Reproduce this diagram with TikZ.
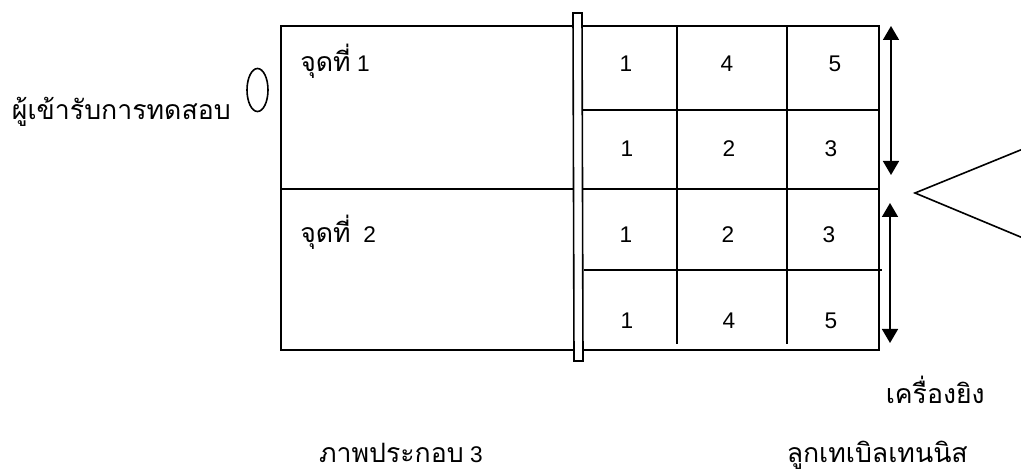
\documentclass[tikz,border=0pt]{standalone}
\usepackage{fontspec}
\setmainfont{Liberation Sans}
\newfontfamily\thaifont[Script=Thai]{Loma}
\newcommand{\thtext}[1]{{\fontsize{20}{24}\selectfont\thaifont #1}}
\usetikzlibrary{arrows.meta}
\begin{document}
\begin{tikzpicture}[x=0.75pt,y=-0.75pt,
  court/.style={line width=1.2pt},
  numlbl/.style={anchor=base,inner sep=0pt,font=\fontsize{17}{20}\selectfont},
  thlbl/.style={inner sep=0pt,font=\fontsize{17}{20}\selectfont},
  dblarrow/.style={line width=1.2pt,{Triangle[width=12pt,length=10.5pt]}-{Triangle[width=12pt,length=10.5pt]}}]
\useasboundingbox (0,0) rectangle (1021,473);
% court
\draw[court] (281,26) rectangle (879,350);
\draw[court] (281,189) -- (879,189);
\draw[court] (582,110) -- (879,110);
\draw[court] (584,270) -- (882,270);
\draw[court] (677,26) -- (677,189);
\draw[court] (787,26) -- (787,189);
\draw[court] (677,189) -- (677,344);
\draw[court] (787,189) -- (787,344);
% net
\draw[court,fill=white] (573,13) -- (582,13) -- (583,361) -- (574,361) -- cycle;
% numbers
\node[numlbl] (a1) at (626,72) {1};
\node[numlbl] (a2) at (727,72) {4};
\node[numlbl] (a3) at (835,72) {5};
\node[numlbl] (b1) at (627,157) {1};
\node[numlbl] (b2) at (729,157) {2};
\node[numlbl] (b3) at (831,157) {3};
\node[numlbl] (c1) at (626,243) {1};
\node[numlbl] (c2) at (728,243) {2};
\node[numlbl] (c3) at (829,243) {3};
\node[numlbl] (d1) at (627,329) {1};
\node[numlbl] (d2) at (729,329) {4};
\node[numlbl] (d3) at (831,329) {5};
% labels
\node[thlbl,anchor=base east] (player) at (231,120) {\thtext{ผู้เข้ารับการทดสอบ}};
\draw[line width=1.2pt] (257.5,90) ellipse [x radius=10.5, y radius=21.5];
\node[thlbl,anchor=base west] (p1) at (300,72) {\thtext{จุดที่} 1};
\node[thlbl,anchor=base west] (p2) at (300,243) {\thtext{จุดที่}\ \ 2};
\node[thlbl,anchor=base east] (shooter1) at (985,404) {\thtext{เครื่องยิง}};
\node[thlbl,anchor=base east] (shooter2) at (968,463) {\thtext{ลูกเทเบิลเทนนิส}};
\node[thlbl,anchor=base east] (caption) at (483,463) {\thtext{ภาพประกอบ} 3};
% arrows
\coordinate (t1) at (891,26);
\coordinate (t2) at (891,175);
\coordinate (u1) at (890,203);
\coordinate (u2) at (890,343);
\draw[dblarrow] (t1) -- (t2);
\draw[dblarrow] (u1) -- (u2);
% shooter
\coordinate (apex) at (915,193);
\coordinate (up) at (1023,149);
\coordinate (lo) at (1023,238);
\draw[line width=1.2pt] (up) -- (apex) -- (lo);
\end{tikzpicture}
\end{document}
